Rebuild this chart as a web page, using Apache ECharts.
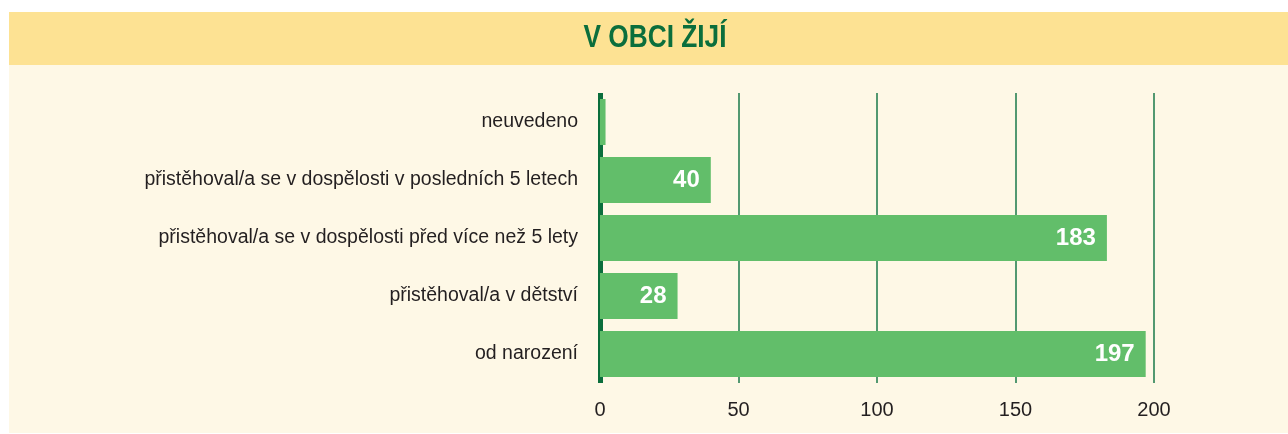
<!DOCTYPE html>
<html>
<head>
<meta charset="utf-8">
<script src="https://cdn.jsdelivr.net/npm/echarts@6/dist/echarts.min.js"></script>
<style>
  html, body { margin: 0; padding: 0; background: #fff; }
  #chart { width: 1288px; height: 434px; }
</style>
</head>
<body>
<div id="chart"></div>
<script>
// data (top to bottom)
var categories = [
  'neuvedeno',
  'přistěhoval/a se v dospělosti v posledních 5 letech',
  'přistěhoval/a se v dospělosti před více než 5 lety',
  'přistěhoval/a v dětství',
  'od narození'
];
var values = [2, 40, 183, 28, 197];
var shownLabels = [false, true, true, true, true];
var xTicks = [0, 50, 100, 150, 200];

var darkGreen = '#0b6e3c';
var barGreen = '#62be6a';

var myChart = echarts.init(document.getElementById('chart'));
var option = {
  animation: false,
  backgroundColor: '#ffffff',
  graphic: [
    { type: 'rect', z: -10, shape: { x: 9, y: 12, width: 1279, height: 53 }, style: { fill: '#fde293' } },
    { type: 'rect', z: -10, shape: { x: 9, y: 65, width: 1279, height: 368 }, style: { fill: '#fef8e6' } },
    {
      // title, squeezed to look like the condensed face of the original
      type: 'text', x: 655, y: 38, scaleX: 0.82,
      style: {
        text: 'V OBCI ŽIJÍ',
        fill: darkGreen,
        font: "bold 32px 'Liberation Sans', Arial, sans-serif",
        textAlign: 'center',
        textVerticalAlign: 'middle'
      }
    }
  ],
  grid: { left: 600, width: 554, top: 93, height: 290, containLabel: false },
  xAxis: {
    type: 'value',
    min: xTicks[0],
    max: xTicks[xTicks.length - 1],
    interval: 50,
    axisLine: { show: false },
    axisTick: { show: false },
    splitLine: { show: true, lineStyle: { color: '#1a7a4a', width: 1.5 } },
    axisLabel: {
      margin: 17,
      color: '#231f20',
      fontSize: 20,
      fontFamily: "'Liberation Sans', Arial, sans-serif"
    }
  },
  yAxis: {
    type: 'category',
    inverse: true,
    data: categories,
    axisLine: { show: true, lineStyle: { color: darkGreen, width: 5, cap: 'butt' } },
    axisTick: { show: false },
    axisLabel: {
      margin: 22,
      color: '#231f20',
      fontSize: 19.5,
      fontFamily: "'Liberation Sans', Arial, sans-serif"
    }
  },
  series: [{
    type: 'bar',
    data: values.map(function (v, i) {
      return { value: v, label: { show: shownLabels[i] } };
    }),
    barWidth: 46,
    itemStyle: { color: barGreen },
    label: {
      position: 'insideRight',
      distance: 11,
      color: '#ffffff',
      fontWeight: 'bold',
      fontSize: 24,
      fontFamily: "'Liberation Sans', Arial, sans-serif"
    }
  }]
};
myChart.setOption(option);
</script>
</body>
</html>
